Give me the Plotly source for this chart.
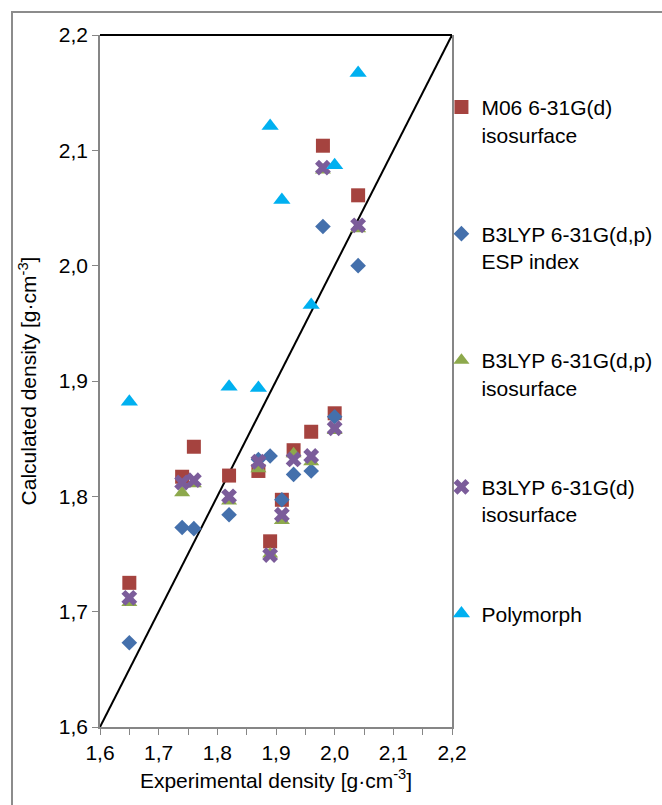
import plotly.graph_objects as go

# ---- data ----
m06_x = [1.65, 1.74, 1.76, 1.82, 1.87, 1.89, 1.91, 1.93, 1.96, 1.98, 2.00, 2.04]
m06_y = [1.725, 1.817, 1.843, 1.818, 1.822, 1.761, 1.797, 1.840, 1.856, 2.104, 1.872, 2.061]

esp_x = [1.65, 1.74, 1.76, 1.82, 1.87, 1.89, 1.91, 1.93, 1.96, 1.98, 2.00, 2.04]
esp_y = [1.673, 1.773, 1.772, 1.784, 1.832, 1.835, 1.797, 1.819, 1.822, 2.034, 1.869, 2.000]

b3dp_x = [1.65, 1.74, 1.76, 1.82, 1.87, 1.89, 1.91, 1.93, 1.96, 1.98, 2.00, 2.04]
b3dp_y = [1.708, 1.803, 1.811, 1.796, 1.824, 1.750, 1.779, 1.837, 1.830, 2.083, 1.857, 2.032]

b3d_x = [1.65, 1.74, 1.76, 1.82, 1.87, 1.89, 1.91, 1.93, 1.96, 1.98, 2.00, 2.04]
b3d_y = [1.712, 1.812, 1.814, 1.800, 1.830, 1.749, 1.784, 1.832, 1.835, 2.085, 1.859, 2.035]

poly_x = [1.65, 1.82, 1.87, 1.89, 1.91, 1.96, 2.00, 2.04]
poly_y = [1.882, 1.895, 1.894, 2.121, 2.057, 1.966, 2.087, 2.167]

diag_x = [1.6, 2.2]
diag_y = [1.6, 2.2]

names = ["M06 6-31G(d)<br>isosurface",
         "B3LYP 6-31G(d,p)<br>ESP index",
         "B3LYP 6-31G(d,p)<br>isosurface",
         "B3LYP 6-31G(d)<br>isosurface",
         "Polymorph"]

FONT = "Liberation Sans, Arial, sans-serif"
FS = 21

fig = go.Figure()

fig.add_trace(go.Scatter(x=diag_x, y=diag_y, mode="lines",
                         line=dict(color="black", width=2),
                         showlegend=False, hoverinfo="skip"))

series = [
    (m06_x, m06_y, "square", "#A5433F", 14),
    (esp_x, esp_y, "diamond", "#4470AC", 12),
    (b3dp_x, b3dp_y, "triangle-up", "#8DA94C", 14),
    (b3d_x, b3d_y, "x", "#7B5C9A", 14),
    (poly_x, poly_y, "triangle-up", "#00B0F0", 15),
]
for i, (xs, ys, sym, col, sz) in enumerate(series):
    fig.add_trace(go.Scatter(x=xs, y=ys, mode="markers", name=names[i],
                             legendgroup=f"g{i}",
                             marker=dict(symbol=sym, color=col, size=sz,
                                         line=dict(width=0))))

fig.update_layout(
    width=662, height=805,
    margin=dict(l=100, r=210, t=35, b=78, autoexpand=False),
    paper_bgcolor="white", plot_bgcolor="white",
    separators=", ",
    font=dict(family=FONT, size=FS, color="black"),
    showlegend=True,
    legend=dict(x=0.97, y=0.925, xanchor="left", yanchor="top",
                bgcolor="rgba(0,0,0,0)", tracegroupgap=69,
                traceorder="grouped", valign="top",
                font=dict(family=FONT, size=FS, color="black")),
    xaxis=dict(range=[1.6, 2.2], dtick=0.1, tick0=1.6, tickformat=".1f",
               showgrid=False, zeroline=False,
               showline=True, linecolor="#868686", linewidth=1.5,
               ticks="outside", ticklen=6, tickcolor="#868686",
               minor=dict(dtick=0.05, ticks="outside", ticklen=6, tickcolor="#868686"),
               title=dict(text="Experimental density [g·cm<sup>-3</sup>]", standoff=10,
                          font=dict(size=FS))),
    yaxis=dict(range=[1.6, 2.2], dtick=0.1, tick0=1.6, tickformat=".1f",
               showgrid=False, zeroline=False,
               showline=True, linecolor="#868686", linewidth=1.5, mirror=True,
               ticks="outside", ticklen=6, tickcolor="#868686",
               title=dict(text="Calculated density [g·cm<sup>-3</sup>]", standoff=16,
                          font=dict(size=FS))),
    shapes=[
        dict(type="line", xref="paper", yref="paper", x0=0, x1=1, y0=1, y1=1,
             line=dict(color="black", width=2)),
        dict(type="rect", xref="paper", yref="paper", x0=-0.25, x1=1.9,
             y0=-0.2, y1=1.0332, line=dict(color="#8C8C8C", width=2),
             layer="below"),
    ],
)

fig.write_html("out.html")
